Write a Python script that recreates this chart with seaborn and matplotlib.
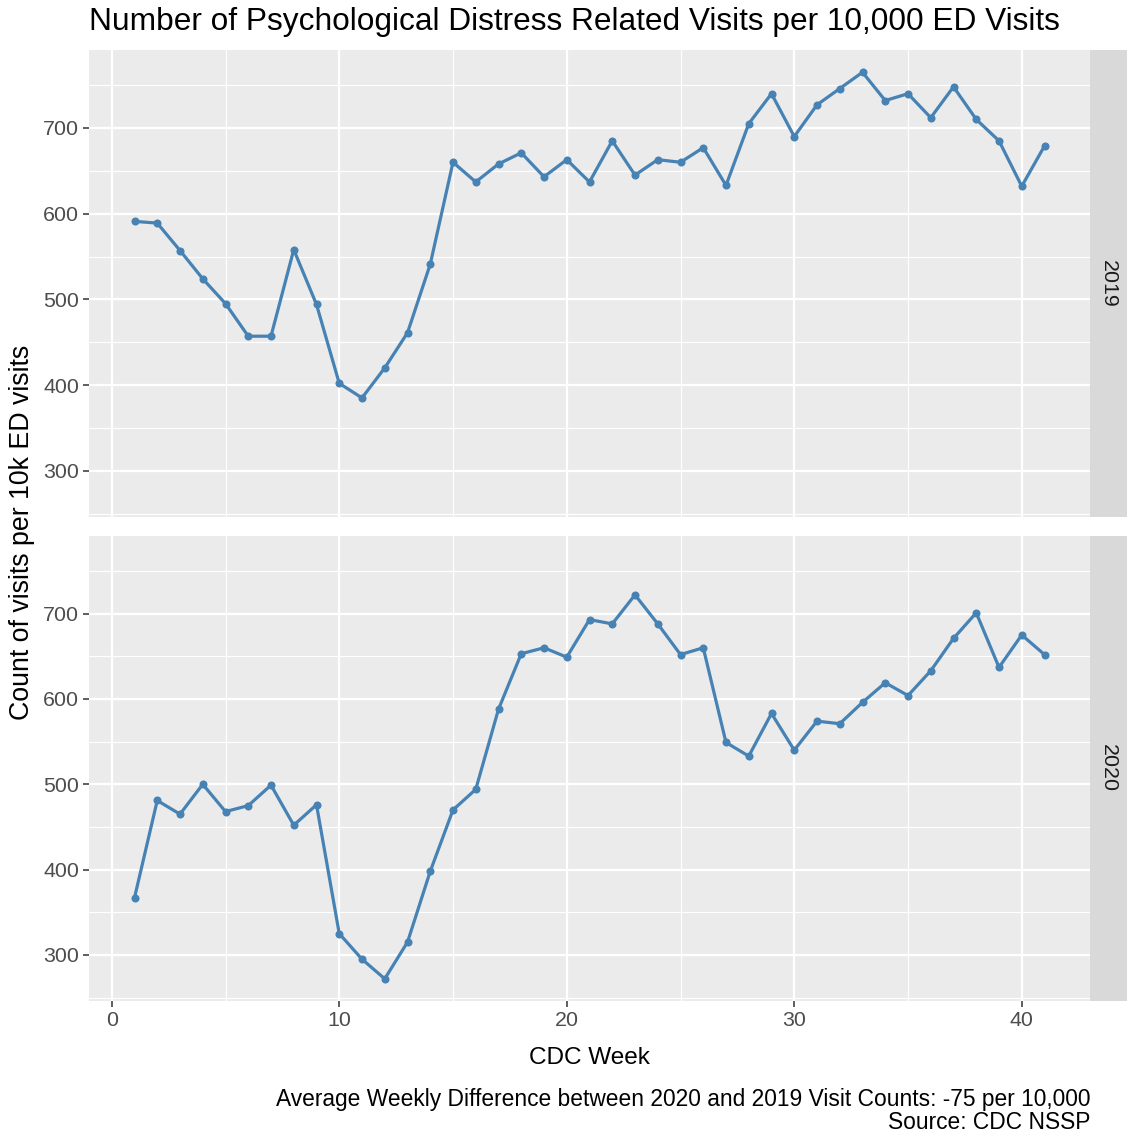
import matplotlib
matplotlib.use("Agg")
import matplotlib.pyplot as plt
import seaborn as sns
import pandas as pd
from matplotlib.ticker import MultipleLocator

weeks = list(range(1, 42))
visits_2019 = [591, 589, 557, 524, 495, 457, 457, 558, 494, 402, 385, 420, 461, 541, 660,
               637, 658, 671, 643, 663, 637, 685, 645, 663, 660, 677, 633, 705, 740, 690,
               727, 746, 765, 732, 740, 712, 748, 710, 685, 632, 679]
visits_2020 = [367, 481, 465, 500, 468, 475, 499, 452, 476, 325, 295, 272, 315, 398, 470,
               494, 588, 653, 660, 649, 693, 688, 722, 688, 652, 660, 549, 533, 583, 540,
               574, 571, 596, 619, 604, 633, 671, 701, 637, 675, 652]
years = ["2019", "2020"]
x_ticks = [0, 10, 20, 30, 40]
y_ticks = [300, 400, 500, 600, 700]

title = "Number of Psychological Distress Related Visits per 10,000 ED Visits"
x_label = "CDC Week"
y_label = "Count of visits per 10k ED visits"
caption = ("Average Weekly Difference between 2020 and 2019 Visit Counts: -75 per 10,000\n"
           "Source: CDC NSSP")

df = pd.DataFrame({
    "week": weeks * 2,
    "visits": visits_2019 + visits_2020,
    "year": [years[0]] * len(weeks) + [years[1]] * len(weeks),
})

sns.set_theme(style="darkgrid")
plt.rcParams["font.family"] = ["Liberation Sans", "DejaVu Sans"]

W, H = 1127, 1133
fig = plt.figure(figsize=(W / 100, H / 100), dpi=100)

def frac_box(x0, y0, x1, y1):
    return [x0 / W, 1 - y1 / H, (x1 - x0) / W, (y1 - y0) / H]

panels = [(50, 517), (536, 1001)]
line_color = "#4682B4"

for i, (yr, (t, b)) in enumerate(zip(years, panels)):
    ax = fig.add_axes(frac_box(89, t, 1090, b))
    ax.set_facecolor("#EBEBEB")
    sub = df[df["year"] == yr]
    sns.lineplot(data=sub, x="week", y="visits", ax=ax, color=line_color,
                 linewidth=2.3, marker="o", markersize=5.8, markeredgewidth=0,
                 zorder=3)
    ax.set_xlim(-1, 43)
    ax.set_ylim(246, 791)
    ax.xaxis.set_major_locator(MultipleLocator(10))
    ax.xaxis.set_minor_locator(MultipleLocator(5))
    ax.set_yticks(y_ticks)
    ax.yaxis.set_minor_locator(MultipleLocator(50))
    ax.grid(which="major", color="white", linewidth=1.6)
    ax.grid(which="minor", color="white", linewidth=0.8)
    ax.set_axisbelow(True)
    for s in ax.spines.values():
        s.set_visible(False)
    ax.tick_params(axis="both", which="major", length=4, width=1.1, color="#333333",
                   labelcolor="#4D4D4D", labelsize=15.4, pad=3,
                   left=True, bottom=(i == 1))
    ax.tick_params(axis="both", which="minor", length=0)
    ax.set_xlabel("")
    ax.set_ylabel("")
    if i == 0:
        ax.set_xticklabels([])
    else:
        ax.set_xticks(x_ticks)
        ax.set_xticklabels([str(v) for v in x_ticks])

    sax = fig.add_axes(frac_box(1090, t, 1127, b))
    sax.set_facecolor("#D9D9D9")
    sax.set_xticks([])
    sax.set_yticks([])
    for s in sax.spines.values():
        s.set_visible(False)
    sax.text(0.5, 0.5, yr, rotation=270, ha="center", va="center",
             fontsize=15.4, color="#1A1A1A", transform=sax.transAxes)

fig.text(89 / W, 1 - 22 / H, title, ha="left", va="center", fontsize=22.8, color="black")
fig.text(22 / W, 1 - 532 / H, y_label, rotation=90, ha="center", va="center",
         fontsize=19.3, color="black")
fig.text(589 / W, 1 - 1058 / H, x_label, ha="center", va="center", fontsize=17.6, color="black")
fig.text(1090 / W, 1 - 1111 / H, caption, ha="right", va="center", multialignment="right",
         fontsize=16.4, color="black", linespacing=1.0)

fig.savefig("out.png", dpi=100)
